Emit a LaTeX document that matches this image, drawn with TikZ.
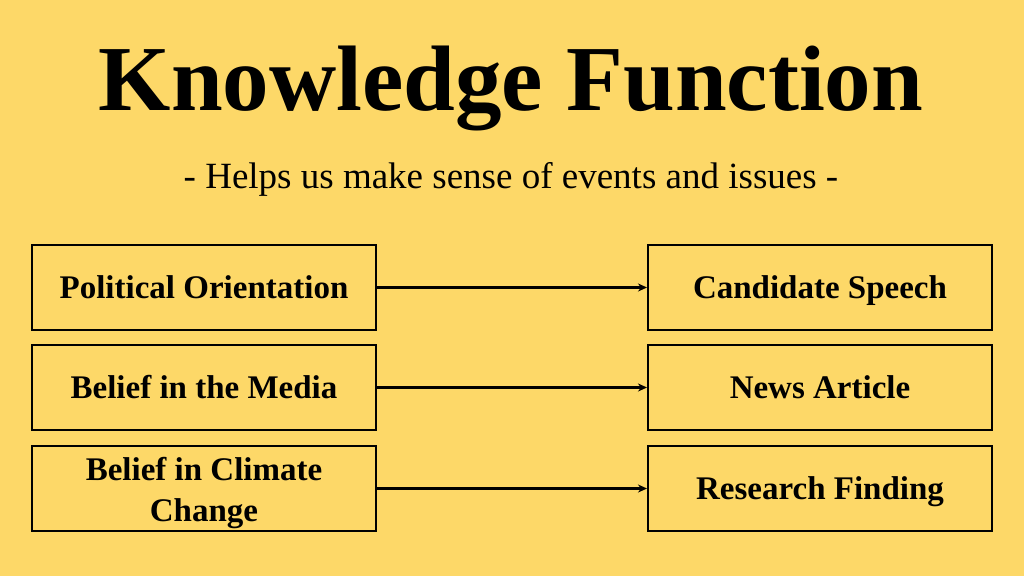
\documentclass[tikz,border=0pt]{standalone}
\usepackage{fontspec}
\setmainfont{Liberation Serif}
\usetikzlibrary{arrows.meta}
\definecolor{bg}{RGB}{253,216,104}
\tikzset{
  box/.style={draw=black, line width=2pt, minimum width=344pt, minimum height=85pt, inner sep=2pt, align=center, text height=28pt, text depth=7pt, font=\fontsize{33}{41}\selectfont\bfseries},
  conn/.style={line width=2.2pt, -{Stealth[length=9pt,width=8pt]}}
}
\begin{document}
\begin{tikzpicture}[x=1pt,y=-1pt]
\fill[bg] (0,0) rectangle (1024,576);
\useasboundingbox (0,0) rectangle (1024,576);
\node[anchor=base, font=\fontsize{93}{93}\selectfont\bfseries] (title) at (511,110) {Knowledge Function};
\node[anchor=base, font=\fontsize{37}{37}\selectfont] (sub) at (511,188) {- Helps us make sense of events and issues -};
\node[box] (l1) at (204,287.5) {Political Orientation};
\node[box] (l2) at (204,387.5) {Belief in the Media};
\node[box, text height=10pt, text depth=27pt] (l3) at (204,488.5) {\begin{tabular}[t]{@{}c@{}}Belief in Climate\\Change\end{tabular}};
\node[box] (r1) at (820,287.5) {Candidate Speech};
\node[box] (r2) at (820,387.5) {News Article};
\node[box] (r3) at (820,488.5) {Research Finding};
\draw[conn] (l1) -- (r1);
\draw[conn] (l2) -- (r2);
\draw[conn] (l3) -- (r3);
\end{tikzpicture}
\end{document}
